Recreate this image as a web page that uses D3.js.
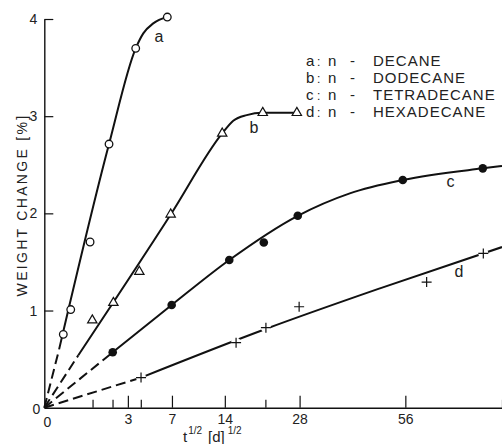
<!DOCTYPE html>
<html>
<head>
<meta charset="utf-8">
<script src="https://cdn.jsdelivr.net/npm/d3@7"></script>
<style>
  html, body { margin: 0; padding: 0; background: #fff; }
  svg { display: block; }
  text { font-family: "Liberation Sans", Arial, sans-serif; fill: #222; }
</style>
</head>
<body>
<svg id="chart" width="502" height="444"></svg>
<script>
// Immersion time t in days (plotted on a square-root axis), weight change in %
const decaneT        = [0.155, 0.30, 0.90, 1.80, 3.59, 6.50];
const decaneW        = [0.755, 1.01, 1.705, 2.713, 3.698, 4.02];
const dodecaneT      = [0.99, 2.05, 3.88, 6.86, 13.6, 20.5, 27.4];
const dodecaneW      = [0.90, 1.08, 1.40, 1.99, 2.823, 3.035, 3.035];
const tetradecaneT   = [2.01, 6.97, 14.7, 20.7, 27.6, 55.2, 82.6];
const tetradecaneW   = [0.57, 1.057, 1.52, 1.70, 1.975, 2.343, 2.463];
const hexadecaneT    = [4.02, 15.8, 21.1, 27.9, 62.8, 82.8];
const hexadecaneW    = [0.31, 0.669, 0.823, 1.039, 1.293, 1.588];

// Hand-fitted trend curves: [t, weight change]; the first segment (from the origin) is dashed
const fitDecane      = [[0, 0], [0.094, 0.6], [1.8, 2.713], [3.59, 3.698], [4.21, 3.852], [5.10, 3.955], [6.50, 4.02]];
const fitDodecane    = [[0, 0], [0.498, 0.54], [6.9, 1.993], [13.6, 2.823], [15.34, 2.953], [17.6, 3.011], [20.5, 3.035], [27.4, 3.035]];
const fitTetradecane = [[0, 0], [2.01, 0.57], [6.97, 1.057], [14.7, 1.52], [27.6, 1.975], [40.1, 2.206], [55.2, 2.343], [82.6, 2.463], [90, 2.487]];
const fitHexadecane  = [[0, 0], [4.02, 0.31], [21.05, 0.81], [48.4, 1.228], [90, 1.653]];

const curveLetters = ["a", "b", "c", "d"];
const legendNames  = ["DECANE", "DODECANE", "TETRADECANE", "HEXADECANE"];
// where each curve letter sits (t, weight change at the text baseline)
const letterT = [5.65, 18.9, 70.9, 73.9];
const letterW = [3.765, 2.823, 2.27, 1.342];

const xMajorTicks = [3, 7, 14, 28, 56];
const xMinorTicks = [1, 2, 4, 21, 90];
const yTicks      = [1, 2, 3, 4];

const svg = d3.select("#chart");

const x = d3.scaleSqrt().domain([0, 90]).range([44.3, 502]);
const y = d3.scaleLinear().domain([0, 4]).range([407.7, 19]);

// ---- axes (ticks point inward) ----
const axisStyle = g => {
  g.selectAll("path.domain").attr("stroke", "#111").attr("stroke-width", 1.4);
  g.selectAll(".tick line").attr("stroke", "#111").attr("stroke-width", 1.2);
  g.selectAll(".tick text").attr("font-family", "Liberation Sans, Arial, sans-serif")
    .attr("font-size", 14).attr("fill", "#222");
};

svg.append("g")
  .attr("transform", `translate(0,${y(0)})`)
  .call(d3.axisBottom(x).tickValues(xMajorTicks).tickSizeInner(-12).tickSizeOuter(0)
        .tickPadding(6).tickFormat(d3.format("d")))
  .call(axisStyle);

svg.append("g")
  .attr("transform", `translate(0,${y(0)})`)
  .call(d3.axisBottom(x).tickValues(xMinorTicks).tickSizeInner(-8).tickSizeOuter(0)
        .tickFormat(""))
  .call(axisStyle)
  .call(g => g.select("path.domain").remove());

svg.append("g")
  .attr("transform", `translate(${x(0)},0)`)
  .call(d3.axisLeft(y).tickValues(yTicks).tickSizeInner(-9).tickSizeOuter(0)
        .tickPadding(7).tickFormat(d3.format("d")))
  .call(axisStyle);

// origin labels
svg.append("text").attr("x", x(0) - 4).attr("y", y(0) + 6)
  .attr("text-anchor", "end").attr("font-size", 14).text("0");
svg.append("text").attr("x", x(0) + 3).attr("y", y(0) + 19)
  .attr("text-anchor", "middle").attr("font-size", 14).text("0");

// axis titles
svg.append("text")
  .attr("transform", `translate(27,205) rotate(-90)`)
  .attr("text-anchor", "middle").attr("font-size", 14)
  .attr("letter-spacing", 2.3)
  .text("WEIGHT CHANGE [%]");

const xt = svg.append("text").attr("x", 183).attr("y", 442).attr("font-size", 15);
xt.append("tspan").text("t");
xt.append("tspan").attr("font-size", 10).attr("dy", -8).attr("dx", 1).text("1/2");
xt.append("tspan").attr("dy", 8).attr("dx", 6).text("[d]");
xt.append("tspan").attr("font-size", 10).attr("dy", -8).attr("dx", 3).text("1/2");

// ---- fitted curves ----
const lineDash  = d3.line().x(d => x(d[0])).y(d => y(d[1]));
const lineSolid = d3.line().x(d => x(d[0])).y(d => y(d[1])).curve(d3.curveMonotoneX);

[fitDecane, fitDodecane, fitTetradecane, fitHexadecane].forEach(fit => {
  svg.append("path").attr("d", lineDash(fit.slice(0, 2)))
    .attr("fill", "none").attr("stroke", "#111").attr("stroke-width", 2)
    .attr("stroke-dasharray", "10,5");
  svg.append("path").attr("d", lineSolid(fit.slice(1)))
    .attr("fill", "none").attr("stroke", "#111").attr("stroke-width", 2);
});

// ---- data markers ----
const pairs = (ts, ws) => ts.map((t, i) => [t, ws[i]]);

svg.append("g").selectAll("circle").data(pairs(decaneT, decaneW)).join("circle")
  .attr("cx", d => x(d[0])).attr("cy", d => y(d[1])).attr("r", 3.8)
  .attr("fill", "#fff").attr("stroke", "#111").attr("stroke-width", 1.3);

const tri = d3.symbol().type(d3.symbolTriangle).size(38);
svg.append("g").selectAll("path").data(pairs(dodecaneT, dodecaneW)).join("path")
  .attr("transform", d => `translate(${x(d[0])},${y(d[1])})`)
  .attr("d", tri)
  .attr("fill", "#fff").attr("stroke", "#111").attr("stroke-width", 1.2);

svg.append("g").selectAll("circle").data(pairs(tetradecaneT, tetradecaneW)).join("circle")
  .attr("cx", d => x(d[0])).attr("cy", d => y(d[1])).attr("r", 4.3)
  .attr("fill", "#111");

const plusG = svg.append("g").selectAll("g").data(pairs(hexadecaneT, hexadecaneW)).join("g")
  .attr("transform", d => `translate(${x(d[0])},${y(d[1])})`);
plusG.append("circle").attr("r", 5).attr("fill", "#fff");
plusG.append("path").attr("d", "M-5,0H5M0,-5V5")
  .attr("stroke", "#111").attr("stroke-width", 1.2).attr("fill", "none");

// ---- curve letters ----
svg.append("g").selectAll("text").data(curveLetters).join("text")
  .attr("x", (d, i) => x(letterT[i]))
  .attr("y", (d, i) => y(letterW[i]))
  .attr("text-anchor", "middle").attr("font-size", 16)
  .text(d => d);

// ---- legend ----
const lg = svg.append("g").attr("font-size", 15);
legendNames.forEach((name, i) => {
  const yy = 66 + i * 17;
  lg.append("text").attr("x", 306).attr("y", yy).text(curveLetters[i]);
  lg.append("text").attr("x", 317).attr("y", yy).attr("font-size", 12).text(":");
  lg.append("text").attr("x", 328).attr("y", yy).text("n");
  lg.append("text").attr("x", 350).attr("y", yy).text("-");
  lg.append("text").attr("x", 373).attr("y", yy).attr("letter-spacing", 1).text(name);
});
</script>
</body>
</html>
